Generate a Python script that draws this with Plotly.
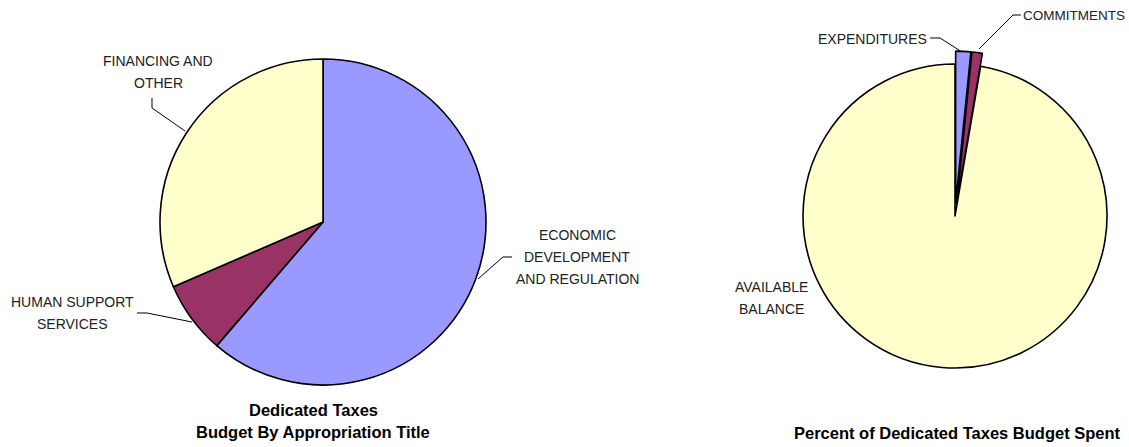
import plotly.graph_objects as go

W, H = 1129, 447

# Budget by appropriation title (share of dedicated taxes budget, %)
titles = ["ECONOMIC<br>DEVELOPMENT<br>AND REGULATION", "HUMAN SUPPORT<br>SERVICES", "FINANCING AND<br>OTHER"]
title_share = [61.3, 7.2, 31.5]
title_colors = ["#9999FF", "#993366", "#FFFFCC"]

# Budget spent status (%)
status = ["EXPENDITURES", "COMMITMENTS", "AVAILABLE<br>BALANCE"]
status_share = [1.6, 1.1, 97.3]
status_colors = ["#9999FF", "#993366", "#FFFFCC"]
status_pull = [0.085, 0.085, 0.0]

FONT = "Liberation Sans Narrow, Arial Narrow, Liberation Sans, Arial, sans-serif"
LINE_GAP = 22  # px between label lines


def px(x, y):
    """Pixel position -> paper coordinates."""
    return x / W, 1 - y / H


def dom(cx, cy, half):
    return dict(x=[(cx - half) / W, (cx + half) / W],
                y=[1 - (cy + half) / H, 1 - (cy - half) / H])


fig = go.Figure()

fig.add_trace(go.Pie(
    labels=titles, values=title_share, sort=False, direction="clockwise", rotation=0,
    marker=dict(colors=title_colors, line=dict(color="black", width=1.6)),
    textinfo="none", hoverinfo="label+percent", showlegend=False,
    domain=dom(323, 222, 163),
))

fig.add_trace(go.Pie(
    labels=status, values=status_share, sort=False, direction="clockwise", rotation=0,
    pull=status_pull,
    marker=dict(colors=status_colors, line=dict(color="black", width=1.6)),
    textinfo="none", hoverinfo="label+percent", showlegend=False,
    domain=dom(955, 216, 152 * 1.085),
))

# Category labels: (text, x, y of first line, anchor, size)
label_pos = [
    (titles[2], 158, 61, "center", 14),
    (titles[0], 577, 235, "center", 14),
    (titles[1], 72, 302, "center", 14),
    (status[2], 771, 287, "center", 14),
    (status[0], 928, 39, "right", 14),
    (status[1], 1126, 16, "right", 13.5),
]
annotations = []
for text, x, y, anchor, size in label_pos:
    for i, line in enumerate(text.split("<br>")):
        ax, ay = px(x, y + i * LINE_GAP)
        annotations.append(dict(text=line, x=ax, y=ay, xref="paper", yref="paper",
                                xanchor=anchor, yanchor="middle", showarrow=False,
                                borderpad=0,
                                font=dict(family=FONT, size=size, color="#222222")))

# Chart titles
for lines, x, y in [(["Dedicated Taxes", "Budget By Appropriation Title"], 313, 410),
                    (["Percent of Dedicated Taxes Budget Spent"], 957, 433)]:
    for i, line in enumerate(lines):
        ax, ay = px(x, y + i * LINE_GAP)
        annotations.append(dict(text=f"<b>{line}</b>", x=ax, y=ay, xref="paper", yref="paper",
                                xanchor="center", yanchor="middle", showarrow=False,
                                font=dict(family=FONT, size=16.5, color="black")))

# Leader lines from labels to slices
leaders = [
    [(152, 98), (152, 108), (185, 131)],
    [(512, 257), (503, 257), (478, 279)],
    [(137, 313), (147, 313), (192, 322)],
    [(930, 38), (940, 38), (962, 52)],
    [(1021, 15), (1013, 15), (979, 49)],
]
shapes = []
for pts in leaders:
    path = "M " + " L ".join(f"{px(x, y)[0]:.5f},{px(x, y)[1]:.5f}" for x, y in pts)
    shapes.append(dict(type="path", path=path, xref="paper", yref="paper",
                       line=dict(color="black", width=1)))

fig.update_layout(
    width=W, height=H, margin=dict(l=0, r=0, t=0, b=0),
    paper_bgcolor="white", plot_bgcolor="white",
    annotations=annotations, shapes=shapes,
)

fig.write_html("out.html")
